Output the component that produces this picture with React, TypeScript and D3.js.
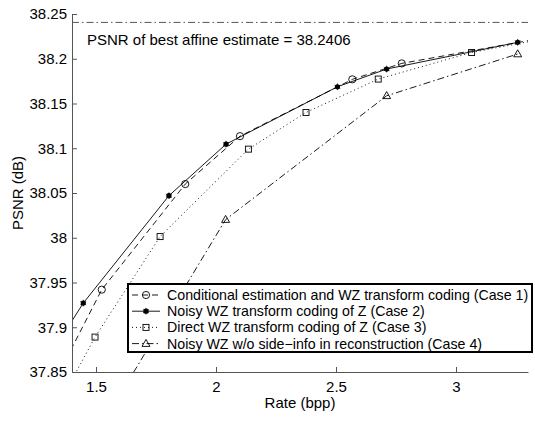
import React, { useEffect, useRef } from "react";
import * as d3 from "d3";

// rate (bpp) / PSNR (dB)
const case1Rate = [1.3, 1.524, 1.872, 2.1, 2.568, 2.774, 3.4];
const case1Psnr = [37.825, 37.942, 38.06, 38.1135, 38.177, 38.1948, 38.225];
const case2Rate = [1.3, 1.447, 1.804, 2.042, 2.506, 2.711, 3.257];
const case2Psnr = [37.865, 37.927, 38.047, 38.1046, 38.1687, 38.1885, 38.2183];
const case3Rate = [1.3, 1.496, 1.767, 2.135, 2.375, 2.676, 3.065, 3.4];
const case3Psnr = [37.792, 37.889, 38.0013, 38.099, 38.14, 38.1773, 38.207, 38.224];
const case4Rate = [1.5, 2.04, 2.711, 3.257];
const case4Psnr = [37.78, 38.0203, 38.1586, 38.2053];

const bestAffine = 38.2406;
const xTicks = [1.5, 2, 2.5, 3];
const yTicks = [37.85, 37.9, 37.95, 38, 38.05, 38.1, 38.15, 38.2, 38.25];
const legendLabels = [
  "Conditional estimation and WZ transform coding (Case 1)",
  "Noisy WZ transform coding of Z (Case 2)",
  "Direct WZ transform coding of Z (Case 3)",
  "Noisy WZ w/o side\u2212info in reconstruction (Case 4)",
];

const W = 535;
const H = 421;
const FONT = "'Liberation Sans', Arial, Helvetica, sans-serif";

export default function App() {
  const svgRef = useRef<SVGSVGElement>(null);

  useEffect(() => {
    const svg = d3.select(svgRef.current);
    svg.selectAll("*").remove();

    const left = 72, right = 528, top = 14, bottom = 372;
    const x = d3.scaleLinear().domain([1.4, 3.3]).range([left, right]);
    const y = d3.scaleLinear().domain([37.85, 38.25]).range([bottom, top]);

    svg.append("defs").append("clipPath").attr("id", "plot-clip")
      .append("rect").attr("x", left).attr("y", top)
      .attr("width", right - left).attr("height", bottom - top);

    const series = [
      { r: case1Rate, p: case1Psnr, dash: "6,4", marker: "circle" },
      { r: case2Rate, p: case2Psnr, dash: null, marker: "dot" },
      { r: case3Rate, p: case3Psnr, dash: "1,3", marker: "square" },
      { r: case4Rate, p: case4Psnr, dash: "7,3,1.5,3", marker: "triangle" },
    ];

    const drawMarker = (g: any, kind: string, cx: number, cy: number) => {
      if (kind === "circle") {
        g.append("circle").attr("cx", cx).attr("cy", cy).attr("r", 3.6)
          .attr("fill", "none").attr("stroke", "#000").attr("stroke-width", 0.9);
      } else if (kind === "dot") {
        g.append("circle").attr("cx", cx).attr("cy", cy).attr("r", 2.6).attr("fill", "#000");
        g.append("path")
          .attr("d", d3.symbol().type(d3.symbolAsterisk).size(30)() as string)
          .attr("transform", `translate(${cx},${cy})`)
          .attr("stroke", "#000").attr("stroke-width", 0.8).attr("fill", "none");
      } else if (kind === "square") {
        g.append("rect").attr("x", cx - 3).attr("y", cy - 3).attr("width", 6).attr("height", 6)
          .attr("fill", "none").attr("stroke", "#000").attr("stroke-width", 0.9);
      } else {
        g.append("path")
          .attr("d", `M${cx},${cy - 4.2}L${cx + 4},${cy + 2.8}L${cx - 4},${cy + 2.8}Z`)
          .attr("fill", "none").attr("stroke", "#000").attr("stroke-width", 0.9);
      }
    };

    const plot = svg.append("g").attr("clip-path", "url(#plot-clip)");

    // best affine estimate reference line
    plot.append("line")
      .attr("x1", left).attr("x2", right)
      .attr("y1", y(bestAffine)).attr("y2", y(bestAffine))
      .attr("stroke", "#555").attr("stroke-width", 1)
      .attr("stroke-dasharray", "7,3,1.5,3");

    const line = d3.line<[number, number]>()
      .x((d) => x(d[0]))
      .y((d) => y(d[1]));

    series.forEach((s) => {
      const pts = s.r.map((r, i) => [r, s.p[i]] as [number, number]);
      plot.append("path")
        .datum(pts)
        .attr("fill", "none")
        .attr("stroke", "#000")
        .attr("stroke-width", 0.9)
        .attr("stroke-dasharray", s.dash)
        .attr("d", line);
      pts.forEach((d) => drawMarker(plot, s.marker, x(d[0]), y(d[1])));
    });

    // axes (ticks inward, no box)
    const xAxis = svg.append("g")
      .attr("transform", `translate(0,${bottom})`)
      .call(d3.axisBottom(x).tickValues(xTicks).tickSize(-5).tickSizeOuter(0).tickFormat(d3.format("")));
    const yAxis = svg.append("g")
      .attr("transform", `translate(${left},0)`)
      .call(d3.axisLeft(y).tickValues(yTicks).tickSize(-5).tickSizeOuter(0).tickFormat(d3.format("")));

    [xAxis, yAxis].forEach((a) => {
      a.selectAll("path.domain").attr("stroke", "#555");
      a.selectAll(".tick line").attr("stroke", "#555");
      a.selectAll("text").attr("fill", "#000").style("font-family", FONT).style("font-size", "15px");
    });
    xAxis.selectAll("text").attr("dy", "0").attr("y", 20);
    yAxis.selectAll("text").attr("x", -5);

    svg.append("text")
      .attr("x", (left + right) / 2).attr("y", 408)
      .attr("text-anchor", "middle")
      .style("font-family", FONT).style("font-size", "15px")
      .text("Rate (bpp)");

    svg.append("text")
      .attr("transform", `translate(23,${(top + bottom) / 2}) rotate(-90)`)
      .attr("text-anchor", "middle")
      .style("font-family", FONT).style("font-size", "15px")
      .text("PSNR (dB)");

    svg.append("text")
      .attr("x", 87).attr("y", 45)
      .style("font-family", FONT).style("font-size", "15px")
      .text(`PSNR of best affine estimate = ${bestAffine}`);

    // legend
    const lg = svg.append("g");
    lg.append("rect")
      .attr("x", 128).attr("y", 284).attr("width", 404).attr("height", 68)
      .attr("fill", "#fff").attr("stroke", "#000").attr("stroke-width", 2);
    series.forEach((s, i) => {
      const cy = 295 + i * 16.2;
      lg.append("line")
        .attr("x1", 132).attr("x2", 160).attr("y1", cy).attr("y2", cy)
        .attr("stroke", "#000").attr("stroke-width", 0.9)
        .attr("stroke-dasharray", s.dash);
      drawMarker(lg, s.marker, 146, cy);
      lg.append("text")
        .attr("x", 167).attr("y", cy + 5)
        .style("font-family", FONT).style("font-size", "14.2px")
        .text(legendLabels[i]);
    });
  }, []);

  return (
    <svg
      ref={svgRef}
      width={W}
      height={H}
      style={{ position: "absolute", left: 0, top: 0, background: "#fff" }}
    />
  );
}
